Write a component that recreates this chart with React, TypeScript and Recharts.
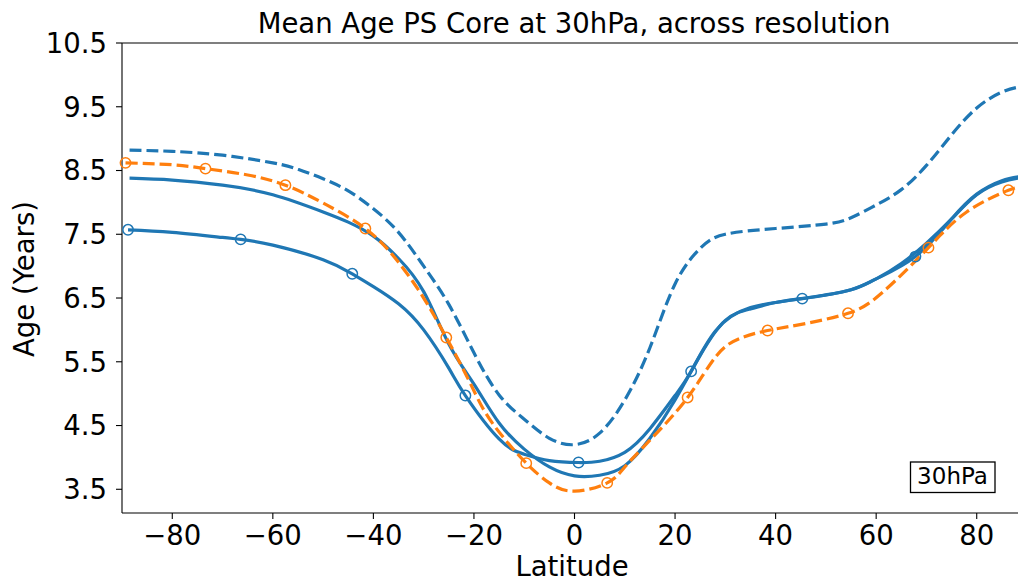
import { LineChart, Line, XAxis, YAxis, ReferenceLine } from 'recharts';

// latitude / mean age (years)
const latDash = [-88.5, -80, -70, -60, -55, -50, -45, -40, -35, -30, -25, -20, -15, -10, -5, 0, 5, 10, 15, 20, 25, 30, 40, 50, 55, 60, 65, 70, 75, 80, 85, 89];
const ageDash = [8.82, 8.8, 8.74, 8.62, 8.52, 8.37, 8.18, 7.9, 7.53, 7.0, 6.4, 5.64, 4.98, 4.6, 4.3, 4.2, 4.38, 4.9, 5.72, 6.72, 7.28, 7.5, 7.59, 7.66, 7.76, 7.96, 8.2, 8.58, 9.06, 9.48, 9.73, 9.82];

const latSolidA = [-88.5, -80, -70, -60, -50, -45, -40, -35, -30, -25, -20, -15, -10, -5, 0, 5, 10, 15, 20, 25, 30, 35, 40, 45, 50, 55, 60, 65, 70, 75, 80, 85, 89];
const ageSolidA = [8.38, 8.35, 8.27, 8.12, 7.85, 7.69, 7.47, 7.12, 6.6, 5.78, 5.15, 4.54, 4.13, 3.85, 3.71, 3.72, 3.87, 4.3, 4.9, 5.6, 6.15, 6.33, 6.43, 6.49, 6.55, 6.63, 6.8, 7.04, 7.36, 7.74, 8.12, 8.32, 8.39];

const latSolidB = [-88.8, -80, -70, -66.4, -60, -50, -44.2, -40, -35, -30, -25, -21.7, -15, -10, -5, 0.8, 5, 10, 15, 20, 23.2, 28, 35, 45.3, 55, 60, 67.8, 75, 80, 85, 89];
const ageSolidB = [7.57, 7.53, 7.45, 7.42, 7.33, 7.1, 6.88, 6.68, 6.41, 6.0, 5.4, 4.97, 4.29, 4.05, 3.95, 3.92, 3.94, 4.08, 4.45, 4.97, 5.35, 5.98, 6.35, 6.49, 6.63, 6.8, 7.15, 7.74, 8.13, 8.34, 8.41];
const marksSolidB = [-88.8, -66.4, -44.2, -21.7, 0.8, 23.2, 45.3, 67.8];

const latOrange = [-89.3, -80, -73.4, -65, -57.5, -50, -41.6, -35.4, -30, -25.5, -21.4, -18, -14, -9.6, -5, 0, 6.5, 10, 15, 22.5, 28.3, 33, 38.4, 46, 54.4, 61, 70.4, 78, 86.3, 89];
const ageOrange = [8.62, 8.59, 8.53, 8.43, 8.27, 7.99, 7.59, 7.1, 6.5, 5.88, 5.27, 4.74, 4.3, 3.91, 3.6, 3.47, 3.6, 3.85, 4.27, 4.94, 5.6, 5.87, 5.99, 6.1, 6.26, 6.57, 7.29, 7.85, 8.19, 8.23];
const marksOrange = [-89.3, -73.4, -57.5, -41.6, -25.5, -9.6, 6.5, 22.5, 38.4, 54.4, 70.4, 86.3];

const xTicks = [-80, -60, -40, -20, 0, 20, 40, 60, 80];
const yTicks = [3.5, 4.5, 5.5, 6.5, 7.5, 8.5, 9.5, 10.5];

const BLUE = '#1f77b4';
const ORANGE = '#ff7f0e';
const FONT = 'DejaVu Sans';

const zip = (lat: number[], age: number[]) => lat.map((l, i) => ({ lat: l, age: age[i] }));

const ringDot = (marks: number[], color: string) => (props: any) => {
  const { cx, cy, payload, index } = props;
  if (!marks.includes(payload.lat)) return <g key={index} />;
  return <circle key={index} cx={cx} cy={cy} r={5.2} fill="none" stroke={color} strokeWidth={1.5} />;
};

const minus = (v: number) => String(v).replace('-', '\u2212');

export default function App() {
  const tick = { fontSize: 27.5, fill: '#000', fontFamily: FONT };
  return (
    <div style={{ position: 'fixed', left: 0, top: 0, width: 1018, height: 584, overflow: 'hidden', background: '#fff', fontFamily: FONT }}>
      <LineChart width={1040} height={584} margin={{ top: 43, right: 13, bottom: 11, left: 22 }}>
        <XAxis
          type="number"
          dataKey="lat"
          domain={[-90, 90]}
          ticks={xTicks}
          tickFormatter={minus}
          tick={tick}
          tickSize={6}
          tickMargin={6}
          height={60}
          axisLine={{ stroke: '#000', strokeWidth: 1.1 }}
          tickLine={{ stroke: '#000', strokeWidth: 1.1 }}
          allowDuplicatedCategory={false}
        />
        <YAxis
          type="number"
          domain={[3.128, 10.5]}
          ticks={yTicks}
          tickFormatter={(v: number) => v.toFixed(1)}
          tick={tick}
          tickSize={6}
          tickMargin={9}
          width={100}
          allowDataOverflow
          axisLine={{ stroke: '#000', strokeWidth: 1.1 }}
          tickLine={{ stroke: '#000', strokeWidth: 1.1 }}
        />
        <ReferenceLine y={10.5} stroke="#000" strokeWidth={1.1} />
        <Line data={zip(latSolidA, ageSolidA)} dataKey="age" type="natural" stroke={BLUE} strokeWidth={3.2} dot={false} isAnimationActive={false} />
        <Line data={zip(latSolidB, ageSolidB)} dataKey="age" type="natural" stroke={BLUE} strokeWidth={3.2} dot={ringDot(marksSolidB, BLUE)} isAnimationActive={false} />
        <Line data={zip(latDash, ageDash)} dataKey="age" type="natural" stroke={BLUE} strokeWidth={3.2} strokeDasharray="12 5" dot={false} isAnimationActive={false} />
        <Line data={zip(latOrange, ageOrange)} dataKey="age" type="natural" stroke={ORANGE} strokeWidth={3.2} strokeDasharray="12 5" dot={ringDot(marksOrange, ORANGE)} isAnimationActive={false} />
      </LineChart>
      <svg width={1018} height={584} style={{ position: 'absolute', left: 0, top: 0, pointerEvents: 'none' }}>
        <text x={574} y={33} textAnchor="middle" fontSize={27.5} fill="#000" fontFamily={FONT}>
          Mean Age PS Core at 30hPa, across resolution
        </text>
        <text x={572} y={576} textAnchor="middle" fontSize={27.5} fill="#000" fontFamily={FONT}>
          Latitude
        </text>
        <text transform="translate(34,279) rotate(-90)" textAnchor="middle" fontSize={27.5} fill="#000" fontFamily={FONT}>
          Age (Years)
        </text>
        <rect x={910.5} y={462} width={84.5} height={30.5} fill="#fff" stroke="#000" strokeWidth={1.3} />
        <text x={952.5} y={484} textAnchor="middle" fontSize={23} fill="#000" fontFamily={FONT}>
          30hPa
        </text>
      </svg>
    </div>
  );
}
